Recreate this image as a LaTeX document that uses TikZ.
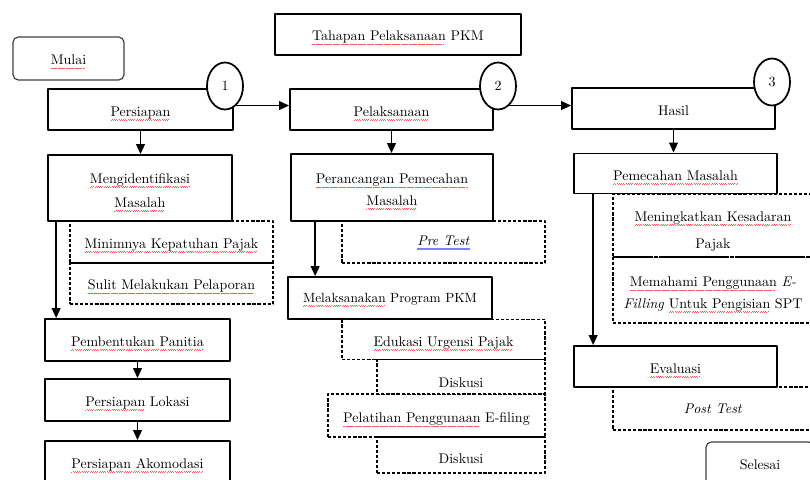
\documentclass[tikz,border=0pt]{standalone}
\usepackage{amsmath}
\usepackage{xcolor}
\usetikzlibrary{arrows.meta,shapes.geometric,calc}

% spell-check marks as printed in the picture
\newcommand\wavebit{\hbox{\vrule width0.5pt height0.3pt depth0pt\kern0.35pt\raise0.55pt\hbox{\vrule width0.5pt height0.3pt depth0pt}\kern0.35pt}}
\newcommand\spl[1]{\setbox0=\hbox{#1}\rlap{\raisebox{-3pt}{\textcolor{red!65}{\hbox to \wd0{\leaders\wavebit\hfill}}}}#1}
\newcommand\grm[1]{\setbox0=\hbox{#1}\rlap{\raisebox{-3.4pt}{\textcolor{blue!50}{\vbox{\hrule height0.3pt width\wd0\kern0.9pt\hrule height0.3pt width\wd0}}}}#1}

\begin{document}
\begin{tikzpicture}[x=0.75pt, y=-0.75pt, line join=round, >={Triangle[length=7.5pt,width=6.5pt]},
  box/.style 2 args={draw, line width=1.3pt, minimum width=#1*0.75pt, minimum height=#2*0.75pt,
    inner sep=1pt, align=center, font=\fontsize{10.5}{16}\selectfont, text height=9.5pt, text depth=0pt},
  dbox/.style 2 args={box={#1}{#2}, line width=1.2pt, dash pattern=on 2.4pt off 1.4pt},
  startend/.style 2 args={box={#1}{#2}, rounded corners=4pt, draw=black!75, line width=0.9pt},
  numbub/.style={draw, ellipse, fill=white, line width=1.3pt, minimum width=36*0.75pt,
    minimum height=47*0.75pt, inner sep=0pt, font=\fontsize{10.5}{14}\selectfont},
  txt/.style={text height=#1},
  link/.style={->, line width=1.3pt}]
  \useasboundingbox (0,0) rectangle (810,479);

  % ========================================================
  % 0. TITLE AND START / END
  % ========================================================
  \node[startend={111}{43}] (mulai) at (68.5,58.5) {\spl{Mulai}};
  \node[box={246}{41}] (tahapan) at (398,34.5) {\spl{Tahapan Pelaksanaan} PKM};
  \node[startend={108}{43}] (selesai) at (760,463.5) {Selesai};

  % ========================================================
  % 1. DASHED SUB-ITEMS (drawn first, solid boxes go on top)
  % ========================================================
  \node[dbox={203}{42}] (minim) at (171.5,242) {\spl{Minimnya Kepatuhan Pajak}};
  \node[dbox={203}{41}] (sulit) at (171.5,283.5) {\spl{Sulit Melakukan Pelaporan}};

  \node[dbox={203}{42}, txt=5pt] (pretest) at (443.5,242) {\grm{\textit{Pre Test}}};
  \node[dbox={203}{40}, txt=10.5pt] (edukasi) at (443.5,339.5) {\spl{Edukasi Urgensi Pajak}};
  \node[dbox={168}{35}, txt=15pt] (diskusiA) at (461,377) {Diskusi};
  \node[dbox={217}{43}, txt=11pt] (pelatihan) at (436.5,415.5) {\spl{Pelatihan Penggunaan} E-filing};
  \node[dbox={168}{36}, txt=12pt] (diskusiB) at (461,455) {Diskusi};

  \node[dbox={200}{63}, txt=34pt] (sadar) at (713,225.5) {\spl{Meningkatkan Kesadaran}\\[4pt]Pajak};
  \node[dbox={200}{66}, txt=27pt] (paham) at (713,290) {\spl{Memahami Penggunaan} \textit{E-}\\\textit{Filling} \spl{Untuk Pengisian} SPT};
  \node[dbox={200}{43}, txt=7pt] (posttest) at (713,408.5) {\textit{Post Test}};

  % ========================================================
  % 2. STAGE 1: PERSIAPAN
  % ========================================================
  \node[box={185}{41}, txt=10pt] (persiapan) at (140.5,109.5) {\spl{Persiapan}};
  \node[box={184}{66}, txt=28.5pt] (ident) at (140,188) {\spl{Mengidentifikasi}\\[2pt]\spl{Masalah}};
  \node[box={185}{42}] (panitia) at (137.5,340) {\spl{Pembentukan Panitia}};
  \node[box={185}{42}] (lokasi) at (137.5,400) {\spl{Persiapan} Lokasi};
  \node[box={185}{42}] (akomodasi) at (137.5,462) {\spl{Persiapan Akomodasi}};

  % ========================================================
  % 3. STAGE 2: PELAKSANAAN
  % ========================================================
  \node[box={203}{41}, txt=10pt] (pelaksanaan) at (391.5,109.5) {\spl{Pelaksanaan}};
  \node[box={202}{67}, txt=26.5pt] (rancang) at (392,187.5) {\spl{Perancangan Pemecahan}\\\spl{Masalah}};
  \node[box={204}{42}, txt=6pt, font=\fontsize{10}{14}\selectfont] (program) at (390,298) {\spl{Melaksanakan} Program PKM};

  % ========================================================
  % 4. STAGE 3: HASIL
  % ========================================================
  \node[box={203}{41}, txt=10pt] (hasil) at (673.5,108.5) {Hasil};
  \node[box={203}{40}, txt=10.5pt] (pemecahan) at (675.5,173.5) {\spl{Pemecahan Masalah}};
  \node[box={203}{41}, txt=10pt] (evaluasi) at (675.5,366.5) {\spl{Evaluasi}};

  % number bubbles
  \node[numbub] (c1) at (225,86) {1};
  \node[numbub] (c2) at (498,86) {2};
  \node[numbub] (c3) at (772,82) {3};

  % ========================================================
  % 5. CONNECTORS
  % ========================================================
  \draw[link] (c1.-60) -- (pelaksanaan.west |- c1.-60);
  \draw[link] (c2.-60) -- (hasil.west |- c2.-60);

  \draw[link] (persiapan.south) -- (persiapan.south |- ident.north);
  \coordinate (identL) at ($(ident.south west)+(9,0)$);
  \draw[link] (identL) -- (identL |- panitia.north);
  \draw[link] (panitia) -- (lokasi);
  \draw[link] (lokasi) -- (akomodasi);

  \draw[link] (pelaksanaan.south) -- (pelaksanaan.south |- rancang.north);
  \coordinate (rancangL) at ($(rancang.south west)+(25,0)$);
  \draw[link] (rancangL) -- (rancangL |- program.north);

  \draw[link] (hasil.south) -- (hasil.south |- pemecahan.north);
  \coordinate (pemecahanL) at ($(pemecahan.south west)+(20,0)$);
  \draw[link] (pemecahanL) -- (pemecahanL |- evaluasi.north);

\end{tikzpicture}
\end{document}
